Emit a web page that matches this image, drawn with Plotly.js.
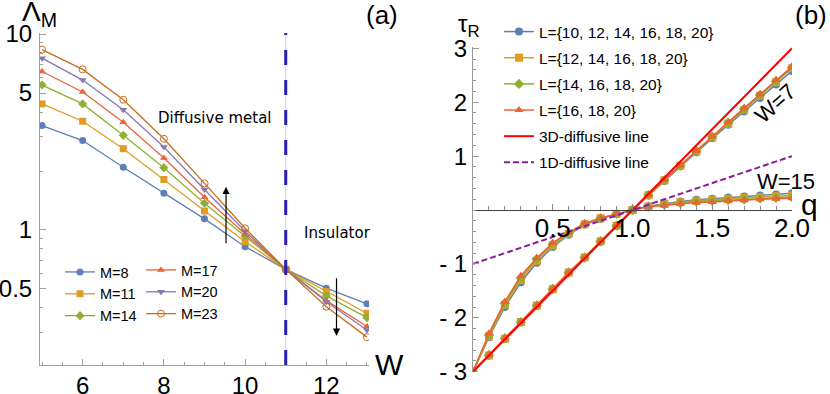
<!DOCTYPE html>
<html>
<head>
<meta charset="utf-8">
<script src="https://cdn.plot.ly/plotly-3.0.1.min.js"></script>
<style>
  html, body { margin: 0; padding: 0; background: #fff; }
  #chart { width: 830px; height: 394px; }
</style>
</head>
<body>
<div id="chart"></div>
<script>
// ---- panel (a): Lambda_M vs W ----
const disorderW = [5, 6, 7, 8, 9, 10, 11, 12, 13];
const lambdaM8  = [3.41, 2.86, 2.09, 1.54, 1.14, 0.822, 0.63, 0.505, 0.42];
const lambdaM11 = [4.40, 3.59, 2.60, 1.81, 1.25, 0.872, 0.63, 0.485, 0.376];
const lambdaM14 = [5.49, 4.40, 3.04, 2.08, 1.37, 0.93, 0.63, 0.461, 0.357];
const lambdaM17 = [6.44, 5.06, 3.55, 2.33, 1.47, 0.955, 0.63, 0.436, 0.322];
const lambdaM20 = [7.53, 5.82, 4.11, 2.65, 1.61, 0.985, 0.63, 0.43, 0.309];
const lambdaM23 = [8.33, 6.60, 4.62, 2.92, 1.73, 1.02, 0.63, 0.406, 0.284];
const sizeLabels = ['M=8', 'M=11', 'M=14', 'M=17', 'M=20', 'M=23'];
const criticalW = 11;

// ---- panel (b): tau_R vs q ----
const qVals = [0, 0.1, 0.2, 0.3, 0.4, 0.5, 0.6, 0.7, 0.8, 0.9, 1.0,
               1.1, 1.2, 1.3, 1.4, 1.5, 1.6, 1.7, 1.8, 1.9, 2.0];
// W=7 (metal side)
const tauW7_L10 = [-3, -2.70, -2.39, -2.08, -1.78, -1.47, -1.16, -0.88, -0.59, -0.29, 0,
                   0.27, 0.54, 0.81, 1.07, 1.33, 1.58, 1.83, 2.08, 2.33, 2.58];
const tauW7_L12 = [-3, -2.70, -2.39, -2.08, -1.77, -1.47, -1.16, -0.88, -0.58, -0.29, 0,
                   0.275, 0.55, 0.82, 1.085, 1.35, 1.60, 1.86, 2.12, 2.37, 2.63];
const tauW7_L14 = [-3, -2.69, -2.38, -2.08, -1.77, -1.46, -1.16, -0.88, -0.58, -0.29, 0,
                   0.28, 0.555, 0.825, 1.09, 1.36, 1.62, 1.875, 2.135, 2.39, 2.645];
const tauW7_L16 = [-3, -2.69, -2.38, -2.08, -1.77, -1.46, -1.16, -0.88, -0.58, -0.29, 0,
                   0.28, 0.56, 0.83, 1.10, 1.37, 1.63, 1.89, 2.15, 2.41, 2.66];
// W=15 (insulator side)
const tauW15_L10 = [-3, -2.36, -1.80, -1.34, -0.98, -0.685, -0.46, -0.27, -0.16, -0.075, 0,
                    0.07, 0.12, 0.16, 0.19, 0.21, 0.23, 0.25, 0.27, 0.29, 0.31];
const tauW15_L12 = [-3, -2.34, -1.76, -1.30, -0.94, -0.66, -0.445, -0.265, -0.155, -0.073, 0,
                    0.065, 0.11, 0.145, 0.17, 0.19, 0.21, 0.225, 0.24, 0.255, 0.27];
const tauW15_L14 = [-3, -2.32, -1.73, -1.26, -0.91, -0.635, -0.43, -0.258, -0.152, -0.071, 0,
                    0.062, 0.1, 0.13, 0.155, 0.17, 0.185, 0.2, 0.215, 0.228, 0.24];
const tauW15_L16 = [-3, -2.29, -1.70, -1.22, -0.89, -0.61, -0.415, -0.25, -0.15, -0.07, 0,
                    0.06, 0.09, 0.12, 0.14, 0.15, 0.17, 0.18, 0.20, 0.21, 0.22];
const seriesLabels = ['L={10, 12, 14, 16, 18, 20}', 'L={12, 14, 16, 18, 20}',
                      'L={14, 16, 18, 20}', 'L={16, 18, 20}'];
const lineQ = [0, 2];
const line3D = [-3, 3];
const line1D = [-1, 1];

// Mathematica-like palette
const colors = ['#5E81B5', '#E19C24', '#8FB032', '#EB6235', '#8778B3', '#C56E1A'];

const FIG_W = 830, FIG_H = 394;
const fx = p => p / FIG_W;
const fy = p => 1 - p / FIG_H;

// pixel frames of the two panels
const aDomX = [fx(40), fx(369)], aDomY = [fy(365), fy(33)];
const bDomX = [fx(473), fx(792)], bDomY = [fy(371.7), fy(46.7)];
const aRangeY = [Math.log10(0.2047), Math.log10(10.12)];
const bRangeY = [-3, 3.03];
const bZeroPos = bDomY[0] + (0 - bRangeY[0]) / (bRangeY[1] - bRangeY[0]) * (bDomY[1] - bDomY[0]);

const tickFont = { family: 'Liberation Sans, Arial, sans-serif', size: 24, color: '#000' };

const traces = [];

// panel (a) traces
const aSeries = [lambdaM8, lambdaM11, lambdaM14, lambdaM17, lambdaM20, lambdaM23];
const aSymbols = ['circle', 'square', 'diamond', 'triangle-up', 'triangle-down', 'circle-open'];
aSeries.forEach((ys, i) => {
  traces.push({
    x: disorderW, y: ys, name: sizeLabels[i],
    type: 'scatter', mode: 'lines+markers',
    xaxis: 'x', yaxis: 'y',
    legend: i < 3 ? 'legend' : 'legend2',
    line: { color: colors[i], width: 1.3 },
    marker: { symbol: aSymbols[i], size: 7, color: colors[i],
              line: { width: i === 5 ? 1 : 0, color: colors[i] } }
  });
});

// panel (b) traces
const bW7 = [tauW7_L10, tauW7_L12, tauW7_L14, tauW7_L16];
const bW15 = [tauW15_L10, tauW15_L12, tauW15_L14, tauW15_L16];
const bSymbols = ['circle', 'square', 'diamond', 'triangle-up'];
bW7.forEach((ys, i) => {
  [ys, bW15[i]].forEach((yy, k) => {
    traces.push({
      x: qVals, y: yy, name: seriesLabels[i],
      type: 'scatter', mode: 'lines+markers',
      xaxis: 'x2', yaxis: 'y2',
      legend: 'legend3', legendgroup: 'g' + i, showlegend: k === 0,
      line: { color: colors[i], width: 1.5 },
      marker: { symbol: bSymbols[i], size: 8, color: colors[i] }
    });
  });
});
traces.push({
  x: lineQ, y: line3D, name: '3D-diffusive line', type: 'scatter', mode: 'lines',
  xaxis: 'x2', yaxis: 'y2', legend: 'legend3', legendgroup: 'g4',
  line: { color: '#FF0000', width: 2 }
});
traces.push({
  x: lineQ, y: line1D, name: '1D-diffusive line', type: 'scatter', mode: 'lines',
  xaxis: 'x2', yaxis: 'y2', legend: 'legend3', legendgroup: 'g5',
  line: { color: '#8B1C9C', width: 2, dash: '6px,3px' }
});

const legendFontA = { family: 'Liberation Sans, Arial, sans-serif', size: 14.5, color: '#000' };
const legendFontB = { family: 'Liberation Sans, Arial, sans-serif', size: 15.5, color: '#000' };

// paper-positioned text, always centred on the given pixel
const label = (x, y, text, size, extra) => Object.assign({
  xref: 'paper', yref: 'paper', x: fx(x), y: fy(y), text: text, showarrow: false,
  xanchor: 'center', yanchor: 'middle',
  font: { family: 'Liberation Sans, Arial', size: size, color: '#000' }
}, extra || {});

const layout = {
  width: FIG_W, height: FIG_H,
  margin: { l: 0, r: 0, t: 0, b: 0 },
  paper_bgcolor: '#fff', plot_bgcolor: 'rgba(0,0,0,0)',
  showlegend: true,
  xaxis: {
    domain: aDomX, range: [4.95, 13.05], anchor: 'y',
    showgrid: false, zeroline: false, showline: true, linecolor: '#a0a0a0', linewidth: 1,
    tickvals: [6, 8, 10, 12], ticks: 'inside', ticklen: 6, tickcolor: '#a0a0a0',
    minor: { dtick: 0.5, tick0: 5, ticks: 'inside', ticklen: 3, tickcolor: '#a0a0a0' },
    tickfont: tickFont, ticklabelstandoff: -1
  },
  yaxis: {
    domain: aDomY, type: 'log', range: aRangeY, anchor: 'x',
    showgrid: false, zeroline: false, showline: true, linecolor: '#a0a0a0', linewidth: 1,
    tickvals: [0.5, 1, 5, 10], ticktext: ['0.5', '1', '5', '10'],
    ticks: 'inside', ticklen: 6, tickcolor: '#a0a0a0',
    minor: { tickvals: [0.3, 0.4, 0.6, 0.7, 0.8, 0.9, 2, 3, 4, 6, 7, 8, 9],
             ticks: 'inside', ticklen: 3, tickcolor: '#a0a0a0' },
    tickfont: tickFont, ticklabelstandoff: 2
  },
  xaxis2: {
    domain: bDomX, range: [0, 2], anchor: 'free', position: bZeroPos,
    showgrid: false, zeroline: false, showline: true, linecolor: '#444', linewidth: 1,
    tickvals: [0.5, 1, 1.5, 2], ticktext: ['0.5', '1.0', '1.5', '2.0'],
    ticks: 'inside', ticklen: 6, tickcolor: '#888',
    minor: { dtick: 0.1, tick0: 0, ticks: 'inside', ticklen: 4, tickcolor: '#888' },
    tickfont: Object.assign({}, tickFont, { size: 26 }), ticklabelstandoff: -5
  },
  yaxis2: {
    domain: bDomY, range: bRangeY, anchor: 'x2',
    showgrid: false, zeroline: false, showline: true, linecolor: '#999', linewidth: 1,
    tickvals: [-3, -2, -1, 1, 2, 3], ticktext: ['- 3', '- 2', '- 1', '1', '2', '3'],
    ticks: 'inside', ticklen: 6, tickcolor: '#999',
    minor: { dtick: 0.2, tick0: 0, ticks: 'inside', ticklen: 3, tickcolor: '#999' },
    tickfont: tickFont, ticklabelstandoff: 0
  },
  legend: {
    x: fx(60), y: fy(256), xanchor: 'left', yanchor: 'top',
    bgcolor: 'rgba(0,0,0,0)', font: legendFontA, tracegroupgap: 0, itemwidth: 30
  },
  legend2: {
    x: fx(141), y: fy(254), xanchor: 'left', yanchor: 'top',
    bgcolor: 'rgba(0,0,0,0)', font: legendFontA, tracegroupgap: 0, itemwidth: 30
  },
  legend3: {
    x: fx(499), y: fy(15), xanchor: 'left', yanchor: 'top',
    bgcolor: 'rgba(0,0,0,0)', font: legendFontB, traceorder: 'grouped',
    tracegroupgap: 3, itemwidth: 30
  },
  shapes: [
    { type: 'line', xref: 'x', yref: 'y domain', x0: criticalW, x1: criticalW, y0: 0, y1: 1,
      line: { color: '#cfcaf2', width: 1 } },
    { type: 'line', xref: 'x', yref: 'y domain', x0: criticalW, x1: criticalW, y0: 0, y1: 1,
      line: { color: '#2A1FB5', width: 3, dash: '15px,15px' } }
  ],
  annotations: [
    // arrows in panel (a)
    { xref: 'x', yref: 'y', x: 9.53, y: Math.log10(1.66), ax: 0, ay: 58, text: '',
      showarrow: true, arrowhead: 2, arrowsize: 1.2, arrowwidth: 1.2, arrowcolor: '#000' },
    { xref: 'x', yref: 'y', x: 12.25, y: Math.log10(0.289), ax: 0, ay: -59, text: '',
      showarrow: true, arrowhead: 2, arrowsize: 1.2, arrowwidth: 1.2, arrowcolor: '#000' },
    label(215, 118, 'Diffusive metal', 15, { font: { family: 'DejaVu Sans', size: 15, color: '#000' } }),
    label(337, 233, 'Insulator', 15, { font: { family: 'DejaVu Sans', size: 15, color: '#000' } }),
    label(382, 15, '(a)', 26),
    label(811, 15, '(b)', 26),
    label(39, 14, 'Λ<sub>M</sub>', 28),
    label(389, 364, 'W', 30),
    label(469, 26, 'τ<sub>R</sub>', 24),
    label(809, 204, 'q', 30),
    label(775, 103, 'W=7', 22, { textangle: -42 }),
    label(786, 182, 'W=15', 22)
  ]
};

Plotly.newPlot('chart', traces, layout, { displayModeBar: false, staticPlot: true });
</script>
</body>
</html>
